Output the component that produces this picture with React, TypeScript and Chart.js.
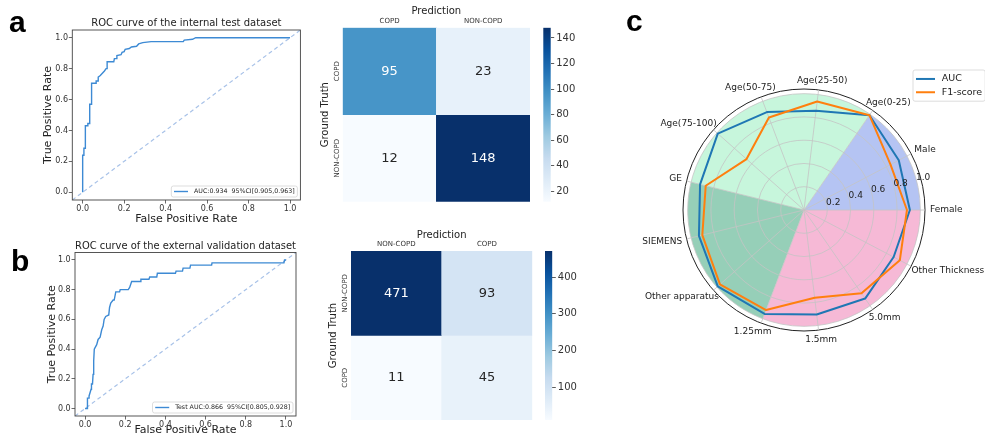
import React, { useEffect, useRef } from 'react';
import { Chart, registerables } from 'chart.js';
Chart.register(...registerables);

const FONT = 'DejaVu Sans';

// ---------- ROC data ----------
const rocAFpr = [0, 0, 0.006, 0.006, 0.013, 0.013, 0.025, 0.025, 0.034, 0.034, 0.043, 0.043, 0.065, 0.065, 0.075, 0.075, 0.085, 0.095, 0.105, 0.113, 0.118, 0.118, 0.15, 0.153, 0.165, 0.165, 0.185, 0.19, 0.2, 0.205, 0.225, 0.235, 0.26, 0.27, 0.29, 0.33, 0.485, 0.49, 0.53, 0.545, 1.0];
const rocATpr = [0, 0.24, 0.24, 0.285, 0.285, 0.43, 0.43, 0.445, 0.445, 0.57, 0.57, 0.705, 0.705, 0.72, 0.72, 0.745, 0.755, 0.77, 0.785, 0.8, 0.8, 0.845, 0.845, 0.865, 0.865, 0.885, 0.89, 0.905, 0.91, 0.925, 0.93, 0.94, 0.945, 0.96, 0.968, 0.975, 0.975, 0.985, 0.99, 1.0, 1.0];
const rocALabel = 'AUC:0.934  95%CI[0.905,0.963]';
const rocATitle = 'ROC curve of the internal test dataset';

const rocBFpr = [0, 0.012, 0.012, 0.02, 0.02, 0.03, 0.032, 0.037, 0.04, 0.043, 0.046, 0.05, 0.058, 0.065, 0.075, 0.083, 0.09, 0.095, 0.103, 0.118, 0.122, 0.128, 0.14, 0.145, 0.153, 0.172, 0.175, 0.215, 0.222, 0.232, 0.275, 0.278, 0.318, 0.322, 0.357, 0.36, 0.45, 0.453, 0.485, 0.488, 0.522, 0.525, 0.63, 0.632, 0.99, 0.993, 1.0];
const rocBTpr = [0, 0, 0.07, 0.07, 0.085, 0.13, 0.165, 0.165, 0.23, 0.32, 0.4, 0.41, 0.43, 0.465, 0.48, 0.53, 0.555, 0.6, 0.62, 0.63, 0.68, 0.71, 0.73, 0.73, 0.785, 0.785, 0.8, 0.8, 0.815, 0.855, 0.855, 0.87, 0.87, 0.885, 0.885, 0.91, 0.91, 0.925, 0.925, 0.945, 0.945, 0.965, 0.965, 0.98, 0.98, 1.0, 1.0];
const rocBLabel = 'Test AUC:0.866  95%CI[0.805,0.928]';
const rocBTitle = 'ROC curve of the external validation dataset';

const rocTicks = [0, 0.2, 0.4, 0.6, 0.8, 1.0];
const ROC_MIN = -0.05;
const ROC_MAX = 1.05;

// ---------- Confusion matrices ----------
const cmAClasses = ['COPD', 'NON-COPD'];
const cmAValues = [[95, 23], [12, 148]];
const cmATicks = [20, 40, 60, 80, 100, 120, 140];

const cmBClasses = ['NON-COPD', 'COPD'];
const cmBValues = [[471, 93], [11, 45]];
const cmBTicks = [100, 200, 300, 400];

// ---------- Radar ----------
const radarCategories = ['Female', 'Male', 'Age(0-25)', 'Age(25-50)', 'Age(50-75)', 'Age(75-100)', 'GE', 'SIEMENS', 'Other apparatus', '1.25mm', '1.5mm', '5.0mm', 'Other Thickness'];
const aucValues = [0.91, 0.92, 0.99, 0.86, 0.9, 0.99, 0.92, 0.93, 0.99, 0.955, 0.905, 0.925, 0.87];
const f1Values = [0.885, 0.84, 0.99, 0.94, 0.85, 0.66, 0.87, 0.9, 0.965, 0.92, 0.76, 0.87, 0.93];
const radarTicks = [0.2, 0.4, 0.6, 0.8, 1.0];
const RADAR_MAX = 1.04;
const groupFrom = ['Female', 'Age(0-25)', 'GE', '1.25mm'];
const groupTo = ['Age(0-25)', 'GE', '1.25mm', 'Female'];
const groupColors = ['#b5c4f3', '#c7f6dc', '#96cfb8', '#f6b9d6'];

// ---------- helpers ----------
const BLUES: [number, number[]][] = [
  [0, [247, 251, 255]], [0.125, [222, 235, 247]], [0.25, [198, 219, 239]], [0.375, [158, 202, 225]],
  [0.5, [107, 174, 214]], [0.625, [66, 146, 198]], [0.75, [33, 113, 181]], [0.875, [8, 81, 156]], [1, [8, 48, 107]],
];
function bluesRgb(t: number) {
  t = Math.max(0, Math.min(1, t));
  for (let i = 0; i < BLUES.length - 1; i++) {
    const [t0, c0] = BLUES[i];
    const [t1, c1] = BLUES[i + 1];
    if (t <= t1) {
      const f = (t - t0) / (t1 - t0);
      return c0.map((v, k) => Math.round(v + (c1[k] - v) * f));
    }
  }
  return BLUES[BLUES.length - 1][1];
}
const rgbStr = (c: number[]) => `rgb(${c[0]},${c[1]},${c[2]})`;
function textColorFor(c: number[]) {
  const lin = c.map((v) => { const s = v / 255; return s <= 0.03928 ? s / 12.92 : Math.pow((s + 0.055) / 1.055, 2.4); });
  const lum = lin[0] * 0.2126 + lin[1] * 0.7152 + lin[2] * 0.0722;
  return lum > 0.408 ? '#262626' : '#ffffff';
}

// ---------- plugins ----------
const framePlugin = {
  id: 'frame',
  afterDraw(chart: any, _a: any, o: any) {
    if (!o || !o.color) return;
    const { ctx, chartArea: a } = chart;
    ctx.save();
    ctx.strokeStyle = o.color;
    ctx.lineWidth = o.width || 1;
    ctx.strokeRect(a.left, a.top, a.right - a.left, a.bottom - a.top);
    ctx.restore();
  },
};

const legendPlugin = {
  id: 'boxLegend',
  afterDraw(chart: any, _a: any, o: any) {
    if (!o || !o.show) return;
    const ctx = chart.ctx;
    const items = chart.data.datasets.filter((d: any) => !d.noLegend);
    ctx.save();
    ctx.font = `${o.fontSize}px "${FONT}"`;
    const tw = Math.max(...items.map((d: any) => ctx.measureText(d.label).width));
    const w = o.padX + o.lineLen + o.gap + tw + o.padX;
    const h = o.padY * 2 + o.rowH * items.length;
    let x = o.x, y = o.y;
    if (o.anchor === 'lowerRight') {
      x = chart.chartArea.right - o.inset - w;
      y = chart.chartArea.bottom - o.inset - h;
    }
    ctx.beginPath();
    if (ctx.roundRect) ctx.roundRect(x, y, w, h, 2); else ctx.rect(x, y, w, h);
    ctx.fillStyle = 'rgba(255,255,255,0.85)';
    ctx.fill();
    ctx.strokeStyle = '#d4d4d4';
    ctx.lineWidth = 0.8;
    ctx.stroke();
    items.forEach((d: any, k: number) => {
      const cy = y + o.padY + o.rowH * (k + 0.5);
      ctx.beginPath();
      ctx.strokeStyle = d.borderColor;
      ctx.lineWidth = d.borderWidth;
      ctx.moveTo(x + o.padX, cy);
      ctx.lineTo(x + o.padX + o.lineLen, cy);
      ctx.stroke();
      ctx.fillStyle = '#222';
      ctx.textAlign = 'left';
      ctx.textBaseline = 'middle';
      ctx.fillText(d.label, x + o.padX + o.lineLen + o.gap, cy);
    });
    ctx.restore();
  },
};

const heatTextPlugin = {
  id: 'heatText',
  afterDatasetsDraw(chart: any, _a: any, o: any) {
    const ctx = chart.ctx;
    ctx.save();
    ctx.textAlign = 'center';
    ctx.textBaseline = 'middle';
    chart.data.datasets.forEach((ds: any, r: number) => {
      const meta = chart.getDatasetMeta(r);
      meta.data.forEach((el: any, c: number) => {
        const p = el.getProps(['x', 'y', 'base'], true);
        ctx.font = `${o.fontSize}px "${FONT}"`;
        ctx.fillStyle = textColorFor(ds.cellRgb[c]);
        ctx.fillText(String(ds.cellValues[c]), p.x, (p.y + p.base) / 2);
      });
    });
    const ys = chart.scales.y;
    ctx.font = `${o.labelSize}px "${FONT}"`;
    ctx.fillStyle = '#333';
    chart.data.datasets.forEach((ds: any, r: number) => {
      const cy = ys.getPixelForValue(r + 0.5);
      ctx.save();
      ctx.translate(o.rowLabelX, cy);
      ctx.rotate(-Math.PI / 2);
      ctx.fillText(ds.label, 0, 0);
      ctx.restore();
    });
    ctx.restore();
  },
};

const sectorPlugin = {
  id: 'sectors',
  beforeDraw(chart: any, _a: any, o: any) {
    const s = chart.scales.r;
    const labels = chart.data.labels;
    const rad = s.getDistanceFromCenterForValue(o.fillTo);
    const ctx = chart.ctx;
    ctx.save();
    o.from.forEach((f: string, k: number) => {
      const a0 = s.getIndexAngle(labels.indexOf(o.to[k])) - Math.PI / 2;
      const a1 = s.getIndexAngle(labels.indexOf(f)) - Math.PI / 2;
      ctx.beginPath();
      ctx.moveTo(s.xCenter, s.yCenter);
      ctx.arc(s.xCenter, s.yCenter, rad, a0, a1, false);
      ctx.closePath();
      ctx.fillStyle = o.colors[k];
      ctx.fill();
    });
    ctx.restore();
  },
};

const radarTextPlugin = {
  id: 'radarText',
  afterDraw(chart: any, _a: any, o: any) {
    const s = chart.scales.r;
    const ctx = chart.ctx;
    ctx.save();
    ctx.fillStyle = '#222';
    ctx.textAlign = 'center';
    ctx.textBaseline = 'middle';
    ctx.font = `${o.tickSize}px "${FONT}"`;
    const ta = (o.tickAngle * Math.PI) / 180;
    o.ticks.forEach((v: number) => {
      const d = s.getDistanceFromCenterForValue(v) + o.tickOffset;
      ctx.fillText(v.toFixed(1), s.xCenter + d * Math.cos(ta), s.yCenter - d * Math.sin(ta));
    });
    ctx.font = `${o.labelSize}px "${FONT}"`;
    chart.data.labels.forEach((lab: string, i: number) => {
      const p = s.getPointPosition(i, s.drawingArea + o.labelGap);
      const w = ctx.measureText(lab).width;
      const h = o.labelSize;
      ctx.fillText(lab, p.x + (Math.cos(p.angle) * w) / 2, p.y + (Math.sin(p.angle) * h) / 2);
    });
    ctx.restore();
  },
};

// ---------- configs ----------
function rocConfig(fpr: number[], tpr: number[], label: string, title: string, g: any) {
  return {
    type: 'scatter',
    data: {
      datasets: [
        { label, data: fpr.map((x, i) => ({ x, y: tpr[i] })), showLine: true, borderColor: '#3d8ad4', borderWidth: 1.4, pointRadius: 0, order: 0 },
        { label: 'chance', noLegend: true, data: [{ x: ROC_MIN, y: ROC_MIN }, { x: ROC_MAX, y: ROC_MAX }], showLine: true, borderColor: '#a8c2e8', borderDash: [4, 3], borderWidth: 1.2, pointRadius: 0, order: 1 },
      ],
    },
    options: {
      responsive: false,
      animation: false,
      events: [],
      layout: { padding: { left: 0, top: 0, right: g.padRight, bottom: 0 } },
      plugins: {
        legend: { display: false },
        tooltip: { enabled: false },
        title: { display: true, text: title, fullSize: false, color: '#222', font: { family: FONT, size: 10, weight: 'normal' }, padding: { top: g.titleTop, bottom: g.titleBottom } },
        frame: { color: '#444', width: 0.9 },
        boxLegend: { show: true, anchor: 'lowerRight', inset: 3, fontSize: 6.3, rowH: 8, padY: 1.5, padX: 2.7, lineLen: 14, gap: 6 },
      },
      scales: {
        x: {
          type: 'linear', min: ROC_MIN, max: ROC_MAX,
          afterBuildTicks: (s: any) => { s.ticks = rocTicks.map((v) => ({ value: v })); },
          afterFit: (s: any) => { s.height = g.xH; },
          ticks: { callback: (v: any) => Number(v).toFixed(1), font: { family: FONT, size: 8 }, color: '#333', padding: 0.8, maxRotation: 0, autoSkip: false },
          grid: { display: true, drawOnChartArea: false, drawTicks: true, tickLength: 3.5, tickColor: '#444', tickWidth: 0.8 },
          border: { display: false },
          title: { display: true, text: 'False Positive Rate', color: '#222', font: { family: FONT, size: 11 }, padding: { top: 0, bottom: g.xTitlePad } },
        },
        y: {
          type: 'linear', min: ROC_MIN, max: ROC_MAX,
          afterBuildTicks: (s: any) => { s.ticks = rocTicks.map((v) => ({ value: v })); },
          afterFit: (s: any) => { s.width = g.yW; },
          ticks: { callback: (v: any) => Number(v).toFixed(1), font: { family: FONT, size: 8 }, color: '#333', padding: 0.8, autoSkip: false },
          grid: { display: true, drawOnChartArea: false, drawTicks: true, tickLength: 3.5, tickColor: '#444', tickWidth: 0.8 },
          border: { display: false },
          title: { display: true, text: 'True Positive Rate', color: '#222', font: { family: FONT, size: 11 }, padding: { top: g.yTitlePad, bottom: 0 } },
        },
      },
    },
    plugins: [framePlugin, legendPlugin],
  };
}

function heatConfig(classes: string[], values: number[][], g: any) {
  const flat = values.flat();
  const mn = Math.min(...flat);
  const mx = Math.max(...flat);
  return {
    type: 'bar',
    data: {
      labels: classes,
      datasets: values.map((row, r) => {
        const rgb = row.map((v) => bluesRgb((v - mn) / (mx - mn)));
        return {
          label: classes[r], data: row.map(() => 1), cellValues: row, cellRgb: rgb,
          backgroundColor: rgb.map(rgbStr), borderWidth: 0, barPercentage: 1, categoryPercentage: 1,
        };
      }),
    },
    options: {
      responsive: false,
      animation: false,
      events: [],
      layout: { padding: { left: 0, top: 0, right: g.padRight, bottom: g.padBottom } },
      plugins: { legend: { display: false }, tooltip: { enabled: false }, heatText: { fontSize: 13, labelSize: 7, rowLabelX: g.rowLabelX } },
      scales: {
        x: {
          position: 'top', stacked: true,
          afterFit: (s: any) => { s.height = g.xH; },
          grid: { display: false, drawTicks: false }, border: { display: false },
          ticks: { font: { family: FONT, size: 7 }, color: '#333', padding: g.xTickPad, maxRotation: 0 },
          title: { display: true, text: 'Prediction', color: '#222', font: { family: FONT, size: 10 }, padding: { top: g.xTitlePad, bottom: 0 } },
        },
        y: {
          type: 'linear', stacked: true, min: 0, max: values.length, reverse: true,
          afterFit: (s: any) => { s.width = g.yW; },
          grid: { display: false, drawTicks: false }, border: { display: false },
          ticks: { display: false },
          title: { display: true, text: 'Ground Truth', color: '#222', font: { family: FONT, size: 10 }, padding: { top: g.yTitlePad, bottom: 0 } },
        },
      },
    },
    plugins: [heatTextPlugin],
  };
}

function colorbarConfig(values: number[][], ticks: number[], g: any) {
  const flat = values.flat();
  const mn = Math.min(...flat);
  const mx = Math.max(...flat);
  return {
    type: 'bar',
    data: {
      labels: [''],
      datasets: [{
        data: [[mn, mx]],
        backgroundColor: (c: any) => {
          const a = c.chart.chartArea;
          if (!a) return '#ccc';
          const grad = c.chart.ctx.createLinearGradient(0, a.bottom, 0, a.top);
          BLUES.forEach(([t, col]) => grad.addColorStop(t, rgbStr(col)));
          return grad;
        },
        borderWidth: 0, barPercentage: 1, categoryPercentage: 1,
      }],
    },
    options: {
      responsive: false,
      animation: false,
      events: [],
      layout: { padding: { left: g.left, top: g.top, bottom: g.bottom, right: 0 } },
      plugins: { legend: { display: false }, tooltip: { enabled: false } },
      scales: {
        x: { display: false },
        y: {
          position: 'right', min: mn, max: mx,
          afterBuildTicks: (s: any) => { s.ticks = ticks.map((v) => ({ value: v })); },
          afterFit: (s: any) => { s.width = g.axisW; },
          grid: { display: true, drawOnChartArea: false, drawTicks: true, tickLength: 3.5, tickColor: '#333', tickWidth: 0.8 },
          border: { display: false },
          ticks: { font: { family: FONT, size: 10 }, color: '#333', padding: 2, autoSkip: false },
        },
      },
    },
  };
}

function radarConfig() {
  const order = [0, ...radarCategories.map((_, i) => i).slice(1).reverse()];
  return {
    type: 'radar',
    data: {
      labels: order.map((i) => radarCategories[i]),
      datasets: [
        { label: 'AUC', data: order.map((i) => aucValues[i]), borderColor: '#1f77b4', backgroundColor: 'rgba(0,0,0,0)', borderWidth: 2, pointRadius: 0, fill: false, borderJoinStyle: 'round', order: 1 },
        { label: 'F1-score', data: order.map((i) => f1Values[i]), borderColor: '#ff7f0e', backgroundColor: 'rgba(0,0,0,0)', borderWidth: 2, pointRadius: 0, fill: false, borderJoinStyle: 'round', order: 0 },
      ],
    },
    options: {
      responsive: false,
      animation: false,
      events: [],
      layout: { padding: { left: 83, right: 60, top: 89, bottom: 109 } },
      plugins: {
        legend: { display: false },
        tooltip: { enabled: false },
        sectors: { from: groupFrom, to: groupTo, colors: groupColors, fillTo: 1.0 },
        radarText: { ticks: radarTicks, tickSize: 9, tickAngle: 15, tickOffset: 7, labelSize: 9, labelGap: 5 },
        boxLegend: { show: true, x: 313, y: 70, fontSize: 9.5, rowH: 13.3, padY: 2.3, padX: 3, lineLen: 19, gap: 6.7 },
      },
      scales: {
        r: {
          min: 0, max: RADAR_MAX, startAngle: 90,
          afterBuildTicks: (s: any) => { s.ticks = [0, ...radarTicks, RADAR_MAX].map((v) => ({ value: v })); },
          ticks: { display: false },
          pointLabels: { display: false },
          grid: {
            circular: true,
            color: (c: any) => (c.tick && c.tick.value > 1.001 ? '#222' : '#c4c4c4'),
            lineWidth: (c: any) => (c.tick && c.tick.value > 1.001 ? 1 : 0.8),
          },
          angleLines: { color: '#c4c4c4', lineWidth: 0.8 },
        },
      },
    },
    plugins: [sectorPlugin, radarTextPlugin, legendPlugin],
  };
}

function ChartCanvas({ left, top, width, height, make }: any) {
  const ref = useRef<HTMLCanvasElement | null>(null);
  useEffect(() => {
    const chart = new Chart(ref.current as any, make() as any);
    return () => chart.destroy();
  }, []);
  return <canvas ref={ref} width={width} height={height} style={{ position: 'absolute', left, top, width, height }} />;
}

const letterStyle: any = { position: 'absolute', fontFamily: '"Liberation Sans", Arial, sans-serif', fontWeight: 'bold', fontSize: 30, lineHeight: '30px', color: '#000' };

export default function App() {
  return (
    <div style={{ position: 'absolute', left: 0, top: 0, width: 985, height: 440, background: '#fff', overflow: 'hidden' }}>
      <ChartCanvas left={0} top={0} width={310} height={228}
        make={() => rocConfig(rocAFpr, rocATpr, rocALabel, rocATitle, { padRight: 9.6, titleTop: 17.5, titleBottom: 0.5, xH: 28, yW: 72.3, xTitlePad: 2.5, yTitlePad: 41.1 })} />
      <ChartCanvas left={0} top={225} width={310} height={215}
        make={() => rocConfig(rocBFpr, rocBTpr, rocBLabel, rocBTitle, { padRight: 14, titleTop: 15, titleBottom: 0.5, xH: 24, yW: 75, xTitlePad: 3, yTitlePad: 45.1 })} />
      <ChartCanvas left={310} top={0} width={250} height={215}
        make={() => heatConfig(cmAClasses, cmAValues, { padRight: 30, padBottom: 13.3, xH: 27.7, yW: 32.7, xTickPad: 2.5, xTitlePad: 5.7, yTitlePad: 9, rowLabelX: 27 })} />
      <ChartCanvas left={310} top={220} width={250} height={220}
        make={() => heatConfig(cmBClasses, cmBValues, { padRight: 27.7, padBottom: 20, xH: 31, yW: 41, xTickPad: 2.8, xTitlePad: 9, yTitlePad: 17, rowLabelX: 35 })} />
      <ChartCanvas left={535} top={0} width={50} height={215}
        make={() => colorbarConfig(cmAValues, cmATicks, { left: 8.3, top: 27.7, bottom: 13.3, axisW: 34.3 })} />
      <ChartCanvas left={535} top={220} width={50} height={220}
        make={() => colorbarConfig(cmBValues, cmBTicks, { left: 10, top: 31, bottom: 20, axisW: 32.7 })} />
      <ChartCanvas left={600} top={0} width={385} height={440} make={radarConfig} />
      <div style={{ ...letterStyle, left: 9, top: 7 }}>a</div>
      <div style={{ ...letterStyle, left: 11, top: 246 }}>b</div>
      <div style={{ ...letterStyle, left: 626, top: 6 }}>c</div>
    </div>
  );
}
